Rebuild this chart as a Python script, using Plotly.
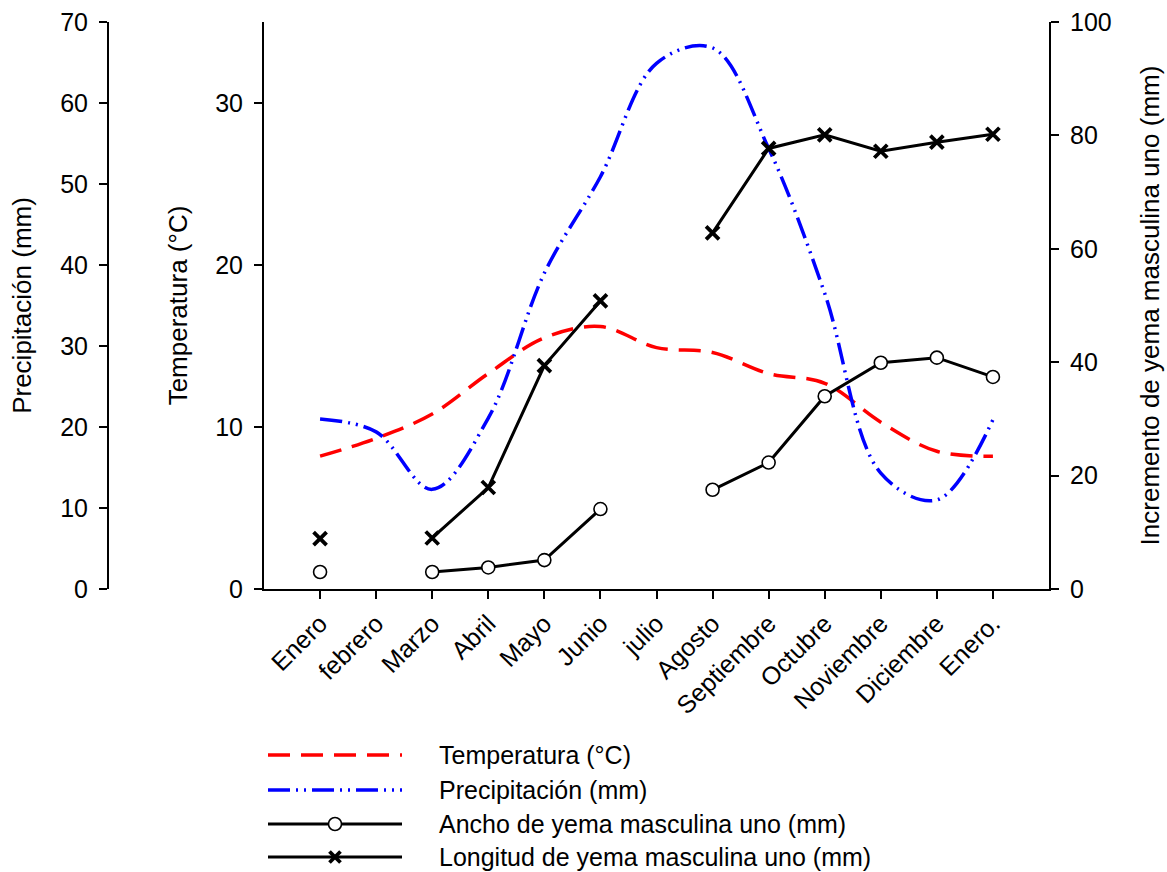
import plotly.graph_objects as go

# ---------------- data ----------------
months = ["Enero", "febrero", "Marzo", "Abril", "Mayo", "Junio", "julio",
          "Agosto", "Septiembre", "Octubre", "Noviembre", "Diciembre", "Enero."]
month_idx = list(range(len(months)))

temperatura = [8.2, 9.3, 10.8, 13.3, 15.5, 16.2, 14.9, 14.6, 13.3, 12.7, 10.3, 8.5, 8.2]
precipitacion = [21.0, 19.4, 12.3, 21.1, 39.0, 50.9, 64.9, 66.8, 54.4, 36.5, 14.3, 11.0, 20.9]
ancho = [3.0, None, 3.0, 3.8, 5.1, 14.1, None, 17.5, 22.3, 34.0, 39.9, 40.8, 37.4]
longitud = [8.9, None, 9.0, 17.9, 39.4, 50.8, None, 62.8, 77.7, 80.1, 77.2, 78.8, 80.2]

temp_ticks = [0, 10, 20, 30]
precip_ticks = [0, 10, 20, 30, 40, 50, 60, 70]
incr_ticks = [0, 20, 40, 60, 80, 100]

legend_labels = ["Temperatura (°C)", "Precipitación (mm)",
                 "Ancho de yema masculina uno (mm)",
                 "Longitud de yema masculina uno (mm)"]

# ---------------- layout constants ----------------
W, H = 1167, 872
ML, MR, MT, MB = 100, 118, 22, 283
PW = W - ML - MR
PH = H - MT - MB
FONT = "Liberation Sans, Arial, sans-serif"

def px2x(px):
    return (px - ML) / PW

def py2y(py):
    return (MT + PH - py) / PH

RED = "#ff0000"
BLUE = "#0000ff"
TEMP_DASH = "22px,11px"
PREC_DASH = "22px,6px,2px,6px,2px,6px"

fig = go.Figure()

fig.add_trace(go.Scatter(
    x=month_idx, y=temperatura, yaxis="y", mode="lines",
    line=dict(color=RED, width=3.5, dash=TEMP_DASH, shape="spline", smoothing=1.0),
    name=legend_labels[0], showlegend=False, hoverinfo="skip"))

fig.add_trace(go.Scatter(
    x=month_idx, y=precipitacion, yaxis="y2", mode="lines",
    line=dict(color=BLUE, width=3.5, dash=PREC_DASH, shape="spline", smoothing=1.0),
    name=legend_labels[1], showlegend=False, hoverinfo="skip"))

fig.add_trace(go.Scatter(
    x=month_idx, y=ancho, yaxis="y3", mode="lines+markers", connectgaps=False,
    line=dict(color="black", width=3),
    marker=dict(symbol="circle", size=13, color="white",
                line=dict(color="black", width=1.6)),
    name=legend_labels[2], showlegend=False, hoverinfo="skip"))

fig.add_trace(go.Scatter(
    x=month_idx, y=longitud, yaxis="y3", mode="lines+markers", connectgaps=False,
    line=dict(color="black", width=3),
    marker=dict(symbol="x-thin", size=13, color="black",
                line=dict(color="black", width=3.8)),
    name=legend_labels[3], showlegend=False, hoverinfo="skip"))

axis_common = dict(
    showgrid=False, zeroline=False, showline=True, linecolor="black", linewidth=2,
    ticks="outside", ticklen=8, tickwidth=2, tickcolor="black",
    tickfont=dict(family=FONT, size=25, color="black"),
)

fig.update_layout(
    width=W, height=H,
    margin=dict(l=ML, r=MR, t=MT, b=MB, autoexpand=False),
    paper_bgcolor="white", plot_bgcolor="white",
    showlegend=False,
    font=dict(family=FONT, color="black"),
    xaxis=dict(
        domain=[px2x(264), 1.0], range=[-1, 13],
        tickmode="array", tickvals=month_idx, ticktext=months, tickangle=-45,
        **axis_common),
    yaxis=dict(
        range=[0, 35], tickmode="array", tickvals=temp_ticks, anchor="x", side="left",
        ticklabelstandoff=6,
        title=dict(text="Temperatura (°C)", font=dict(family=FONT, size=26), standoff=20),
        **axis_common),
    yaxis2=dict(
        range=[0, 70], tickmode="array", tickvals=precip_ticks, overlaying="y",
        anchor="free", position=px2x(108), side="left",
        ticklabelstandoff=6,
        title=dict(text="Precipitación (mm)", font=dict(family=FONT, size=26), standoff=20),
        **axis_common),
    yaxis3=dict(
        range=[0, 100], tickmode="array", tickvals=incr_ticks, overlaying="y",
        anchor="x", side="right",
        ticklabelstandoff=6,
        title=dict(text="Incremento de yema masculina uno (mm)",
                   font=dict(family=FONT, size=26), standoff=30),
        **axis_common),
)

# ---------------- manual legend ----------------
rows = [755, 790, 824, 857]
lx0, lx1, ltext, lmark = 268, 402, 437, 335
styles = [dict(color=RED, width=3.5, dash=TEMP_DASH),
          dict(color=BLUE, width=3.5, dash=PREC_DASH),
          dict(color="black", width=3),
          dict(color="black", width=3)]
shapes = []
annotations = []
for i, (py, lab) in enumerate(zip(rows, legend_labels)):
    shapes.append(dict(type="line", xref="paper", yref="paper",
                       x0=px2x(lx0), x1=px2x(lx1), y0=py2y(py), y1=py2y(py),
                       line=styles[i]))
    annotations.append(dict(text=lab, xref="paper", yref="paper",
                            x=px2x(ltext), y=py2y(py), xanchor="left", yanchor="middle",
                            showarrow=False, font=dict(family=FONT, size=25, color="black")))
# circle marker for "Ancho"
shapes.append(dict(type="circle", xref="paper", yref="paper",
                   xsizemode="pixel", ysizemode="pixel",
                   xanchor=px2x(lmark), yanchor=py2y(rows[2]),
                   x0=-6.5, x1=6.5, y0=-6.5, y1=6.5,
                   fillcolor="white", line=dict(color="black", width=1.6)))
# cross marker for "Longitud"
for sgn in (1, -1):
    shapes.append(dict(type="line", xref="paper", yref="paper",
                       xsizemode="pixel", ysizemode="pixel",
                       xanchor=px2x(lmark), yanchor=py2y(rows[3]),
                       x0=-5.5, x1=5.5, y0=-5.5 * sgn, y1=5.5 * sgn,
                       line=dict(color="black", width=3.8)))

fig.update_layout(shapes=shapes, annotations=annotations)

fig.write_html("out.html",
               config={"displayModeBar": False, "staticPlot": True},
               post_script="document.body.style.margin='0';document.body.style.overflow='hidden';")
